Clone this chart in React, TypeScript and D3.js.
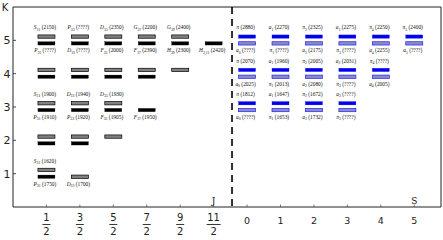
import React from "react";
import * as d3 from "d3";

// ---------- data ----------
const kTicks = [1, 2, 3, 4, 5];
const jNumerators = ["1", "3", "5", "7", "9", "11"];
const jValues = [0.5, 1.5, 2.5, 3.5, 4.5, 5.5];
const sValues = [0, 1, 2, 3, 4, 5];

// Baryon (Delta) states: [J, K, slot ('u' upper / 'l' lower), name, sub, mass]
type St = [number, number, string, string, string, string];
const grayStates: St[] = [
  [0.5, 5, "u", "S", "31", "2150"],
  [1.5, 5, "u", "P", "33", "????"],
  [2.5, 5, "u", "D", "35", "2350"],
  [3.5, 5, "u", "G", "37", "2200"],
  [4.5, 5, "u", "G", "39", "2400"],
  [0.5, 4, "u", "", "", ""],
  [1.5, 4, "u", "", "", ""],
  [2.5, 4, "u", "", "", ""],
  [3.5, 4, "u", "", "", ""],
  [4.5, 4, "u", "", "", ""],
  [0.5, 3, "u", "S", "31", "1900"],
  [1.5, 3, "u", "D", "33", "1940"],
  [2.5, 3, "u", "D", "35", "1930"],
  [0.5, 2, "u", "", "", ""],
  [1.5, 2, "u", "", "", ""],
  [2.5, 2, "u", "", "", ""],
  [0.5, 1, "u", "S", "31", "1620"],
  [1.5, 1, "l", "D", "33", "1700"],
];
const blackStates: St[] = [
  [0.5, 5, "l", "P", "31", "????"],
  [1.5, 5, "l", "D", "33", "????"],
  [2.5, 5, "l", "F", "35", "2000"],
  [3.5, 5, "l", "F", "37", "2390"],
  [4.5, 5, "l", "H", "39", "2300"],
  [5.5, 5, "l", "H", "3,11", "2420"],
  [0.5, 4, "l", "", "", ""],
  [1.5, 4, "l", "", "", ""],
  [2.5, 4, "l", "", "", ""],
  [3.5, 4, "l", "", "", ""],
  [0.5, 3, "l", "P", "31", "1910"],
  [1.5, 3, "l", "P", "33", "1920"],
  [2.5, 3, "l", "F", "35", "1905"],
  [3.5, 3, "l", "F", "37", "1950"],
  [0.5, 2, "l", "", "", ""],
  [1.5, 2, "l", "", "", ""],
  [0.5, 1, "l", "P", "31", "1750"],
];
// Meson states: [S, K, slot, name, sub, mass]
const blueStates: St[] = [
  [0, 5, "u", "π", "", "2880"],
  [1, 5, "u", "a", "1", "2270"],
  [2, 5, "u", "π", "2", "2325"],
  [3, 5, "u", "a", "3", "2275"],
  [4, 5, "u", "π", "4", "2250"],
  [5, 5, "u", "π", "5", "2400"],
  [0, 4, "u", "π", "", "2070"],
  [1, 4, "u", "a", "1", "1960"],
  [2, 4, "u", "π", "2", "2005"],
  [3, 4, "u", "a", "3", "2031"],
  [4, 4, "u", "π", "4", "????"],
  [0, 3, "u", "π", "", "1812"],
  [1, 3, "u", "a", "1", "1647"],
  [2, 3, "u", "π", "2", "1672"],
  [3, 3, "u", "a", "3", "????"],
];
const lightStates: St[] = [
  [0, 5, "l", "a", "0", "????"],
  [1, 5, "l", "π", "1", "????"],
  [2, 5, "l", "a", "2", "2175"],
  [3, 5, "l", "π", "3", "????"],
  [4, 5, "l", "a", "4", "2255"],
  [5, 5, "l", "a", "5", "????"],
  [0, 4, "l", "a", "0", "2025"],
  [1, 4, "l", "π", "1", "2013"],
  [2, 4, "l", "a", "2", "2080"],
  [3, 4, "l", "π", "3", "????"],
  [4, 4, "l", "a", "4", "2005"],
  [0, 3, "l", "a", "0", "????"],
  [1, 3, "l", "π", "1", "1653"],
  [2, 3, "l", "a", "2", "1732"],
  [3, 3, "l", "π", "3", "????"],
];

// ---------- layout ----------
const W = 443;
const H = 240;
const left = 13, right = 441, top = 7, bottom = 207;
const x = d3.scaleLinear().domain([-1, 11.8]).range([left, right]);
const y = d3.scaleLinear().domain([0, 6]).range([bottom, top]);
const slotJ = (j: number) => j - 0.5;
const slotS = (s: number) => s + 6;
const divider = 5.55;
const barW = 17;

function Label({ cx, by, name, sub, mass }: { cx: number; by: number; name: string; sub: string; mass: string }) {
  if (!name) return null;
  return (
    <text x={cx} y={by} textAnchor="middle" fontFamily="'Liberation Serif', 'DejaVu Serif', serif" fontSize={5.4} fill="#111">
      <tspan fontStyle="italic">{name}</tspan>
      {sub ? <tspan fontSize={3.8} dy={1.3}>{sub}</tspan> : null}
      <tspan dy={sub ? -1.3 : 0}>{` (${mass})`}</tspan>
    </text>
  );
}

function Bars({ data, slotFn, fill, stroke, sw }: { data: St[]; slotFn: (v: number) => number; fill: string; stroke: string; sw: number }) {
  return (
    <g>
      {data.map((d, i) => {
        const cx = x(slotFn(d[0]));
        const yk = y(d[1]);
        const up = d[2] === "u";
        const yt = up ? yk - 5.4 : yk + 1.4;
        const by = up ? yk - 11 : yk + 12;
        return (
          <g key={i}>
            <rect x={cx - barW / 2} y={yt} width={barW} height={3.3} fill={fill} stroke={stroke} strokeWidth={sw} />
            <Label cx={cx - 1.5} by={by} name={d[3]} sub={d[4]} mass={d[5]} />
          </g>
        );
      })}
    </g>
  );
}

export default function App() {
  return (
    <svg width={W} height={H} style={{ position: "absolute", left: 0, top: 0, background: "#fff" }}>
      <rect x={0} y={0} width={W} height={H} fill="#fff" />
      {/* frame */}
      <g stroke="#222" strokeWidth={1} fill="none">
        <line x1={left} y1={top} x2={right} y2={top} />
        <line x1={right} y1={top} x2={right} y2={bottom} />
        <line x1={left} y1={top} x2={left} y2={bottom} />
        <line x1={left} y1={bottom} x2={right} y2={bottom} />
      </g>
      {/* divider */}
      <line x1={x(divider)} y1={top} x2={x(divider)} y2={bottom} stroke="#000" strokeWidth={1.6} strokeDasharray="7 5" />
      {/* y ticks */}
      {kTicks.map((k) => (
        <g key={k}>
          <line x1={left} x2={left + 3} y1={y(k)} y2={y(k)} stroke="#222" strokeWidth={0.8} />
          <text x={7} y={y(k) + 4} textAnchor="middle" fontFamily="'DejaVu Sans', sans-serif" fontSize={11} fill="#222">{k}</text>
        </g>
      ))}
      <text x={5} y={11} textAnchor="middle" fontFamily="'DejaVu Sans', sans-serif" fontSize={10} fill="#222">K</text>
      {/* x ticks: J */}
      {jValues.map((j, i) => {
        const cx = x(slotJ(j));
        return (
          <g key={"j" + i} fontFamily="'DejaVu Sans', sans-serif" fontSize={10} fill="#222">
            <line x1={cx} x2={cx} y1={bottom} y2={bottom - 2.5} stroke="#555" strokeWidth={0.8} />
            <text x={cx} y={221} textAnchor="middle">{jNumerators[i]}</text>
            <line x1={cx - (jNumerators[i].length > 1 ? 7 : 4)} x2={cx + (jNumerators[i].length > 1 ? 7 : 4)} y1={224.5} y2={224.5} stroke="#222" strokeWidth={0.9} />
            <text x={cx} y={235} textAnchor="middle">2</text>
          </g>
        );
      })}
      {sValues.map((s) => {
        const cx = x(slotS(s));
        return (
          <g key={"s" + s}>
            <line x1={cx} x2={cx} y1={bottom} y2={bottom - 2.5} stroke="#555" strokeWidth={0.8} />
            <text x={cx} y={224} textAnchor="middle" fontFamily="'DejaVu Sans', sans-serif" fontSize={9.5} fill="#222">{s}</text>
          </g>
        );
      })}
      <text x={x(slotJ(5.5))} y={204} textAnchor="middle" fontFamily="'DejaVu Serif', serif" fontSize={9} fill="#111">J</text>
      <text x={x(slotS(5))} y={204} textAnchor="middle" fontFamily="'DejaVu Serif', serif" fontSize={9} fill="#111">S</text>
      {/* bars */}
      <Bars data={grayStates} slotFn={slotJ} fill="#808080" stroke="#000" sw={0.7} />
      <Bars data={blackStates} slotFn={slotJ} fill="#000" stroke="#000" sw={0.3} />
      <Bars data={blueStates} slotFn={slotS} fill="#0000ee" stroke="#0000ee" sw={0.3} />
      <Bars data={lightStates} slotFn={slotS} fill="#8a8ac8" stroke="#2222ee" sw={0.7} />
    </svg>
  );
}
